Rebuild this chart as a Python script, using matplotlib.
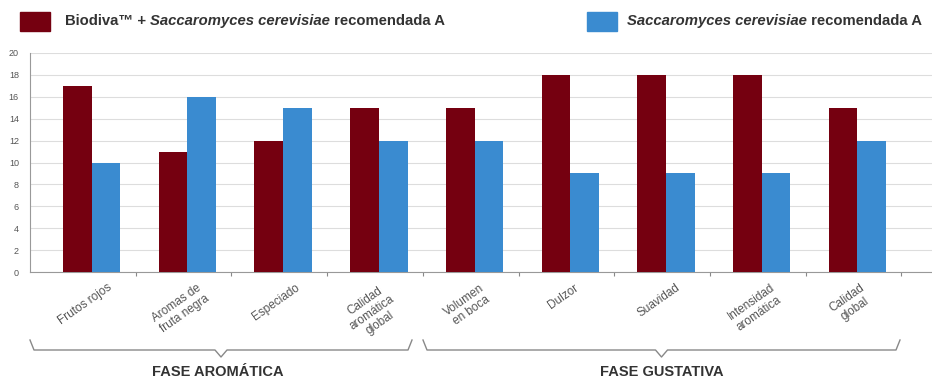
import matplotlib
matplotlib.use('Agg')
import matplotlib.pyplot as plt
from matplotlib.patches import Rectangle
import numpy as np

# Datos
categorias = ['Frutos rojos', 'Aromas de\nfruta negra', 'Especiado', 'Calidad\naromática\nglobal',
              'Volumen\nen boca', 'Dulzor', 'Suavidad', 'Intensidad\naromática', 'Calidad\nglobal']
biodiva = [17, 11, 12, 15, 15, 18, 18, 18, 15]
sacch = [10, 16, 15, 12, 12, 9, 9, 9, 12]
y_ticks = list(range(0, 21, 2))

rojo = '#750010'
azul = '#3a8bd0'
gris = '#555555'

plt.rcParams['font.family'] = ['Liberation Sans', 'DejaVu Sans']

fig = plt.figure(figsize=(9.32, 3.8), dpi=100)
ax = fig.add_axes([30 / 932, 108 / 380, 1 - 30 / 932, 219 / 380])

x = np.arange(len(categorias))
w = 0.30
ax.bar(x - w / 2 + 0.04, biodiva, w, color=rojo, zorder=3)
ax.bar(x + w / 2 + 0.04, sacch, w, color=azul, zorder=3)

ax.set_ylim(0, 20)
ax.set_yticks(y_ticks)
ax.set_yticklabels([str(v) for v in y_ticks], fontsize=6.5, color=gris)
ax.set_xlim(-0.605, 8.82)
ax.set_xticks(np.arange(0.5, 9.5, 1))
ax.set_xticklabels([])
ax.tick_params(axis='x', length=3, color='#888888')
ax.tick_params(axis='y', length=0, pad=8)
ax.grid(axis='y', color='#dddddd', linewidth=0.8, zorder=0)
for s in ['top', 'right']:
    ax.spines[s].set_visible(False)
for s in ['left', 'bottom']:
    ax.spines[s].set_color('#999999')

for i, c in enumerate(categorias):
    ax.text(i - 0.03, -0.9, c, rotation=35, ha='center', va='top', fontsize=8.5,
            color=gris, linespacing=1.15, multialignment='center')

# Llaves
def llave(x0, x1, ytop=340, ybot=350, ytip=357):
    xm = (x0 + x1) / 2
    H = 380
    xs = [x0, x0 + 4, xm - 6, xm, xm + 6, x1 - 4, x1]
    ys = [ytop, ybot, ybot, ytip, ybot, ybot, ytop]
    fig.add_artist(plt.Line2D([v / 932 for v in xs], [1 - v / H for v in ys],
                              color='#888888', linewidth=1.0, transform=fig.transFigure))

llave(30, 412)
llave(423, 900)
fig.text(218 / 932, 1 - 372 / 380, 'FASE AROMÁTICA', ha='center', va='center',
         fontsize=10.5, fontweight='bold', color='#333333')
fig.text(662 / 932, 1 - 372 / 380, 'FASE GUSTATIVA', ha='center', va='center',
         fontsize=10.5, fontweight='bold', color='#333333')

# Leyenda
fig.add_artist(Rectangle((20 / 932, 1 - 31 / 380), 30 / 932, 19 / 380, color=rojo,
                         transform=fig.transFigure))
fig.add_artist(Rectangle((587 / 932, 1 - 31 / 380), 30 / 932, 19 / 380, color=azul,
                         transform=fig.transFigure))

renderer = fig.canvas.get_renderer()

def texto_partes(x0, partes, y=1 - 21 / 380):
    xpos = x0
    for txt, estilo in partes:
        t = fig.text(xpos, y, txt, ha='left', va='center', fontsize=10.7,
                     fontweight='bold', fontstyle=estilo, color='#333333')
        bb = t.get_window_extent(renderer=renderer)
        xpos += bb.width / fig.bbox.width

texto_partes(65 / 932, [('Biodiva™ + ', 'normal'), ('Saccaromyces cerevisiae', 'italic'),
                        (' recomendada A', 'normal')])
texto_partes(627 / 932, [('Saccaromyces cerevisiae', 'italic'), (' recomendada A', 'normal')])

fig.savefig('out.png', dpi=100)
